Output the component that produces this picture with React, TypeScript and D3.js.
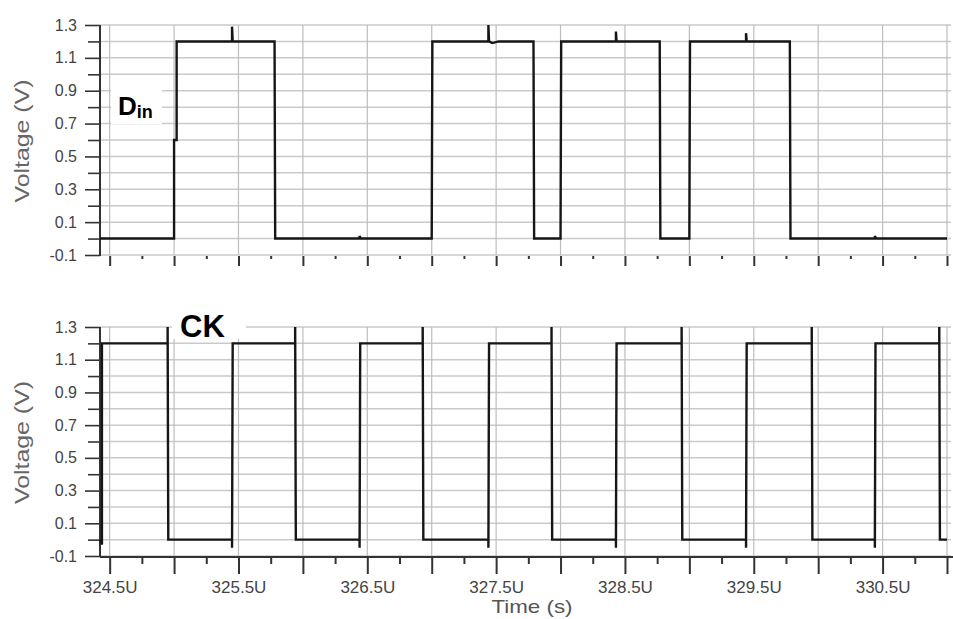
import React, { useEffect, useRef } from 'react';
import * as d3 from 'd3';

// D_in waveform: time (µs) and voltage (V)
const dinTime = [
  324.425, 325.0, 325.0, 325.02, 325.02, 325.45, 325.45, 325.455, 325.78, 325.785,
  326.44, 326.44, 326.45, 327.0, 327.005, 327.44, 327.44, 327.445, 327.47, 327.52,
  327.79, 327.795, 328.0, 328.005, 328.43, 328.43, 328.435, 328.77, 328.775, 329.0,
  329.005, 329.44, 329.44, 329.445, 329.78, 329.785, 330.44, 330.44, 330.45, 331.0,
];
const dinVolt = [
  0.0, 0.0, 0.6, 0.6, 1.2, 1.2, 1.29, 1.2, 1.2, 0.0,
  0.0, 0.015, 0.0, 0.0, 1.2, 1.2, 1.3, 1.2, 1.19, 1.2,
  1.2, 0.0, 0.0, 1.2, 1.2, 1.26, 1.2, 1.2, 0.0, 0.0,
  1.2, 1.2, 1.25, 1.2, 1.2, 0.0, 0.0, 0.015, 0.0, 0.0,
];

// CK waveform
const ckTime = [
  324.425, 324.44, 324.44, 324.95, 324.95, 324.955, 325.45, 325.45, 325.455, 325.94,
  325.94, 325.945, 326.44, 326.44, 326.445, 326.93, 326.93, 326.935, 327.44, 327.44,
  327.445, 327.93, 327.93, 327.935, 328.43, 328.43, 328.435, 328.94, 328.94, 328.945,
  329.44, 329.44, 329.445, 329.95, 329.95, 329.955, 330.44, 330.44, 330.445, 330.94,
  330.94, 330.945, 331.0,
];
const ckVolt = [
  0.0, -0.03, 1.2, 1.2, 1.3, 0.0, 0.0, -0.05, 1.2, 1.2,
  1.3, 0.0, 0.0, -0.05, 1.2, 1.2, 1.3, 0.0, 0.0, -0.05,
  1.2, 1.2, 1.3, 0.0, 0.0, -0.05, 1.2, 1.2, 1.3, 0.0,
  0.0, -0.05, 1.2, 1.2, 1.3, 0.0, 0.0, -0.05, 1.2, 1.2,
  1.3, 0.0, 0.0,
];

const voltLabels = ['-0.1', '0.1', '0.3', '0.5', '0.7', '0.9', '1.1', '1.3'];
const timeLabelValues = [324.5, 325.5, 326.5, 327.5, 328.5, 329.5, 330.5];
const timeLabels = ['324.5U', '325.5U', '326.5U', '327.5U', '328.5U', '329.5U', '330.5U'];

export default function App() {
  const svgRef = useRef<SVGSVGElement>(null);

  useEffect(() => {
    if (!svgRef.current) return;
    const svg = d3.select(svgRef.current);
    svg.selectAll('*').remove();

    const font = "'Liberation Sans', Arial, sans-serif";
    const left = 100;
    const right = 947;

    const x = d3.scaleLinear().domain([324.425, 331.0]).range([left, right]);
    const gridTimes = d3.range(324.5, 331.01, 0.5);
    const quarterTimes = d3.range(324.5, 331.01, 0.25);
    const isHalf = (t: number) => Math.abs(t * 2 - Math.round(t * 2)) < 1e-6;

    const panels = [
      { top: 25, bottom: 255, time: dinTime, volt: dinVolt, bottomAxis: false },
      { top: 327, bottom: 556, time: ckTime, volt: ckVolt, bottomAxis: true },
    ];

    panels.forEach((p) => {
      const y = d3.scaleLinear().domain([-0.1, 1.3]).range([p.bottom, p.top]);
      const g = svg.append('g');
      const gridVolts = y.ticks(14);

      // grid
      g.selectAll('.hgrid')
        .data(gridVolts)
        .enter()
        .append('line')
        .attr('x1', left)
        .attr('x2', right + 4)
        .attr('y1', (d) => y(d))
        .attr('y2', (d) => y(d))
        .attr('stroke', '#cacaca')
        .attr('stroke-width', 1.5);
      g.selectAll('.vgrid')
        .data(gridTimes)
        .enter()
        .append('line')
        .attr('x1', (d) => x(d))
        .attr('x2', (d) => x(d))
        .attr('y1', p.top)
        .attr('y2', p.bottom)
        .attr('stroke', '#bdbdbd')
        .attr('stroke-width', 1.2);

      // y axis
      const fmt = (d: number) => (+d).toFixed(1);
      const yAxis = g
        .append('g')
        .attr('transform', `translate(${left},0)`)
        .call(
          d3
            .axisLeft(y)
            .tickValues(gridVolts)
            .tickSizeOuter(0)
            .tickSizeInner(12)
            .tickPadding(9)
            .tickFormat((d) => (voltLabels.includes(fmt(d as number)) ? fmt(d as number) : ''))
        );
      yAxis.select('.domain').remove();
      yAxis
        .selectAll('.tick line')
        .attr('x2', (d: any) => (voltLabels.includes(fmt(d)) ? -15 : -12))
        .attr('stroke', '#333')
        .attr('stroke-width', 1.6);
      yAxis
        .selectAll('.tick text')
        .attr('x', -23)
        .attr('font-family', font)
        .attr('font-size', 16)
        .attr('fill', '#444');
      g.append('line')
        .attr('x1', left)
        .attr('x2', left)
        .attr('y1', p.top)
        .attr('y2', p.bottom + 1)
        .attr('stroke', '#333')
        .attr('stroke-width', 2);

      // x axis
      const xAxis = g
        .append('g')
        .attr('transform', `translate(0,${p.bottom + 1})`)
        .call(
          d3
            .axisBottom(x)
            .tickValues(quarterTimes)
            .tickSizeOuter(0)
            .tickFormat((d) => {
              const i = timeLabelValues.findIndex((v) => Math.abs(v - (d as number)) < 1e-6);
              return p.bottomAxis && i >= 0 ? timeLabels[i] : '';
            })
        );
      xAxis.select('.domain').remove();
      xAxis
        .selectAll('.tick line')
        .attr('y2', (d: any) => (isHalf(d) ? (p.bottomAxis ? 17 : 10) : p.bottomAxis ? 7 : 3))
        .attr('stroke', '#333')
        .attr('stroke-width', 2);
      xAxis
        .selectAll('.tick text')
        .attr('y', 30)
        .attr('dy', '0.35em')
        .attr('font-family', font)
        .attr('font-size', 17)
        .attr('fill', '#444');
      if (p.bottomAxis) {
        g.append('line')
          .attr('x1', left)
          .attr('x2', 953)
          .attr('y1', p.bottom + 1)
          .attr('y2', p.bottom + 1)
          .attr('stroke', '#333')
          .attr('stroke-width', 2.2);
      }

      // waveform
      const line = d3
        .line<number>()
        .x((d, i) => x(p.time[i]))
        .y((d) => y(d));
      g.append('path')
        .datum(p.volt)
        .attr('d', line)
        .attr('fill', 'none')
        .attr('stroke', '#161616')
        .attr('stroke-width', 2.4);

      // y title
      g.append('text')
        .attr('transform', `translate(29,${(p.top + p.bottom) / 2 + 1}) rotate(-90)`)
        .attr('text-anchor', 'middle')
        .attr('font-family', font)
        .attr('font-size', 20)
        .attr('fill', '#666')
        .attr('textLength', 123)
        .attr('lengthAdjust', 'spacingAndGlyphs')
        .text('Voltage (V)');
    });

    // signal labels
    svg.append('rect').attr('x', 111).attr('y', 78).attr('width', 51).attr('height', 46).attr('fill', '#fff');
    const din = svg
      .append('text')
      .attr('x', 118)
      .attr('y', 115)
      .attr('font-family', font)
      .attr('font-weight', 'bold')
      .attr('fill', '#000');
    din.append('tspan').attr('font-size', 26).text('D');
    din.append('tspan').attr('font-size', 18).attr('dy', 3).text('in');

    svg.append('rect').attr('x', 172).attr('y', 299).attr('width', 74).attr('height', 40).attr('fill', '#fff');
    svg
      .append('text')
      .attr('x', 180)
      .attr('y', 337)
      .attr('font-family', font)
      .attr('font-weight', 'bold')
      .attr('font-size', 31)
      .attr('fill', '#000')
      .text('CK');

    svg
      .append('text')
      .attr('x', 532)
      .attr('y', 613)
      .attr('text-anchor', 'middle')
      .attr('font-family', font)
      .attr('font-size', 19)
      .attr('fill', '#555')
      .attr('textLength', 81)
      .attr('lengthAdjust', 'spacingAndGlyphs')
      .text('Time (s)');
  }, []);

  return (
    <div style={{ position: 'absolute', left: 0, top: 0, background: '#fff' }}>
      <svg ref={svgRef} width={953} height={619} style={{ display: 'block' }} />
    </div>
  );
}
